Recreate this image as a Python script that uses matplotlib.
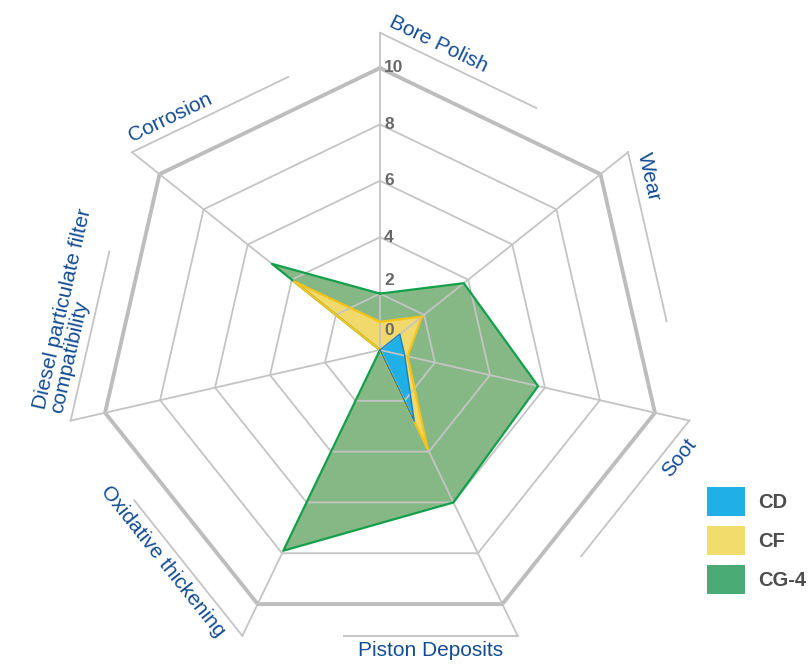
import numpy as np
import matplotlib.pyplot as plt
from matplotlib.patches import Patch

plt.rcParams['font.family'] = ['Liberation Sans', 'DejaVu Sans']

# Données
categories = ['Bore Polish', 'Wear', 'Soot', 'Piston Deposits', 'Oxidative thickening',
              'Diesel particulate filter\ncompatibility', 'Corrosion']
cd = [0, 0.9, 0.9, 2.8, 0, 0, 0]
cf = [1.0, 1.9, 1.0, 3.9, 0, 0, 3.9]
cg4 = [2.0, 3.8, 5.75, 6.0, 7.9, 0, 4.9]
series_names = ['CD', 'CF', 'CG-4']
ticks = [0, 2, 4, 6, 8, 10]

# Géométrie de la figure (pixels)
W, H = 811, 667
cx, cy = 380, 350
px = 28.2  # pixels par unité

fig = plt.figure(figsize=(W / 100, H / 100), dpi=100)
ax = fig.add_axes([0, 0, 1, 1])
ax.set_xlim(-cx / px, (W - cx) / px)
ax.set_ylim(-(H - cy) / px, cy / px)
ax.axis('off')

n = len(categories)
ang = np.deg2rad(90 - np.arange(n) * 360 / n)


def to_xy(vals):
    vals = np.asarray(vals, dtype=float)
    return vals * np.cos(ang), vals * np.sin(ang)


# Séries (remplissage)
styles = [
    (cg4, '#86b886', '#13a04a', 1.6),
    (cf, '#f2d96b', '#f5c41a', 1.6),
    (cd, '#1eb0e6', '#1a80c2', 1.0),
]
for k, (vals, fc, ec, lw) in enumerate(styles):
    x, y = to_xy(vals)
    ax.fill(x, y, color=fc, lw=0, zorder=1 + k)

# Grille
grid_col = '#c4c4c4'
for v in ticks[1:]:
    x, y = to_xy([v] * n)
    x = np.append(x, x[0])
    y = np.append(y, y[0])
    if v == ticks[-1]:
        ax.plot(x, y, color='#bdbdbd', lw=2.8, zorder=5, solid_joinstyle='miter')
    else:
        ax.plot(x, y, color=grid_col, lw=1.3, zorder=5)

r_ext = 11.25
for a in ang:
    ax.plot([0, r_ext * np.cos(a)], [0, r_ext * np.sin(a)], color=grid_col, lw=1.3, zorder=5)

# Contours des séries
for k, (vals, fc, ec, lw) in enumerate(styles):
    x, y = to_xy(vals)
    ax.plot(np.append(x, x[0]), np.append(y, y[0]), color=ec, lw=lw, zorder=6 + k)

# Étiquettes des axes avec leur trait
label_col = '#134c92'
frac = 0.63
off = 0.2
for i, name in enumerate(categories):
    a0, a1 = ang[i], ang[(i + 1) % n]
    p0 = r_ext * np.array([np.cos(a0), np.sin(a0)])
    p1 = r_ext * np.array([np.cos(a1), np.sin(a1)])
    pe = p0 + frac * (p1 - p0)
    ax.plot([p0[0], pe[0]], [p0[1], pe[1]], color=grid_col, lw=1.3, zorder=5)
    d = (p1 - p0) / np.linalg.norm(p1 - p0)
    nout = np.array([-d[1], d[0]])
    deg = np.degrees(np.arctan2(d[1], d[0]))
    if deg > 90 or deg < -90:
        rot, ha, va = deg + 180 if deg < 0 else deg - 180, 'right', 'top'
        m = 0.5
    else:
        rot, ha, va = deg, 'left', 'bottom'
        m = 0.15
    anchor = p0 + d * m + nout * off
    ax.text(anchor[0], anchor[1], name, rotation=rot, rotation_mode='anchor',
            ha=ha, va=va, fontsize=15, color=label_col, linespacing=0.9,
            multialignment='left', zorder=10)

# Graduations
for v in ticks:
    if v >= 4:
        r = v
    elif v == 0:
        r = 0.7
    else:
        r = v + 0.45
    ax.text(0.15, r, str(v), ha='left', va='center', fontsize=12.5, fontweight='bold',
            color='#686868', zorder=10)

# Légende
handles = [Patch(facecolor=c, edgecolor='none') for c in ['#1eb0e6', '#f2dc6c', '#4aab74']]
leg = ax.legend(handles, series_names, loc='upper left',
                bbox_to_anchor=(707 / W, 1 - 487 / H), bbox_transform=fig.transFigure,
                frameon=False, borderpad=0, borderaxespad=0,
                handlelength=1.9, handleheight=1.84, labelspacing=0.5, handletextpad=0.65,
                prop={'size': 14.5, 'weight': 'bold'})
for t in leg.get_texts():
    t.set_color('#4d4d4d')

plt.savefig('out.png', dpi=100)
plt.close()
